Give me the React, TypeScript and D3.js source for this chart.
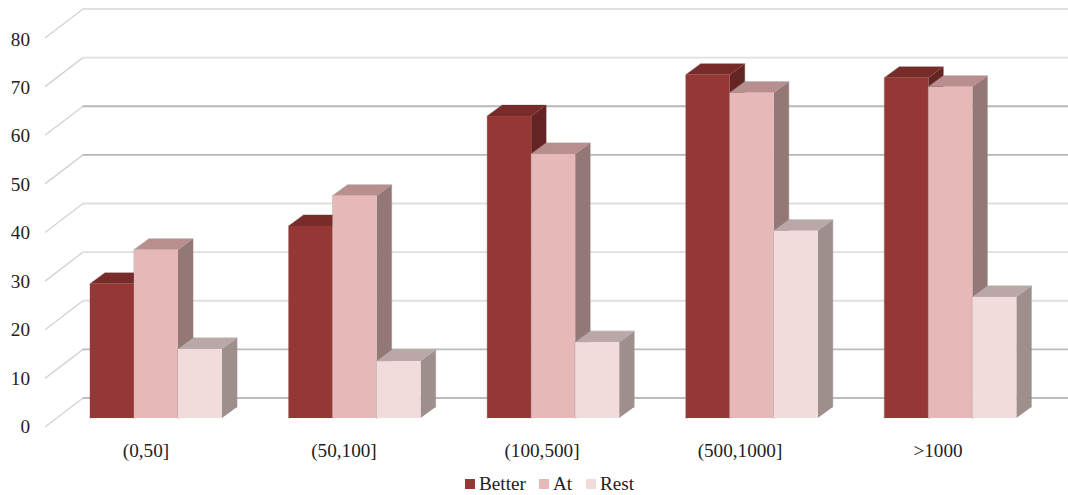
import React from "react";
import * as d3 from "d3";

const categories = ["(0,50]", "(50,100]", "(100,500]", "(500,1000]", ">1000"];
const seriesNames = ["Better", "At", "Rest"];
const better = [27.6, 39.5, 62.1, 70.6, 70];
const at = [34.6, 45.7, 54.3, 66.9, 68.1];
const rest = [14.2, 11.7, 15.6, 38.5, 24.9];
const yTicks = [0, 10, 20, 30, 40, 50, 60, 70, 80];
const tickShades = ["#bcbcbc", "#bcbcbc", "#e0e0e0", "#dedede", "#e0e0e0", "#b8b8b8", "#b8b8b8", "#e0e0e0", "#e0e0e0"];

const fronts = ["#953735", "#e6b9b8", "#f2dcdb"];
const tops = ["#772c2a", "#b88f8e", "#b9a8a7"];
const sides = ["#632423", "#947876", "#9e8e8c"];

const width = 1068;
const height = 495;
const depthX = 15;
const depthY = -11;

// Front plane of the bars; the wall sits further back along the depth axis.
const y = d3.scaleLinear().domain([0, 80]).range([418, 29]);
const labelY = d3.scaleLinear().domain([0, 80]).range([433, 45.5]);
const x0 = d3.scaleBand<string>().domain(categories).range([40.35, 1066]).paddingInner(0.3353).paddingOuter(0.25);
// Category captions sit on the floor's front edge, left of the bars' own centres.
const xLabel = d3.scalePoint<string>().domain(categories).range([146, 938]);
const serie = [better, at, rest];

export default function App() {
  const barW = x0.bandwidth() / 3;
  const font = "'Liberation Serif', 'Times New Roman', serif";
  const wallY = (t: number) => y(t) - 20;
  const leftY = (t: number) => y(t) + 9;
  return (
    <svg width={width} height={height} style={{ position: "absolute", left: 0, top: 0, background: "#fff" }} fontFamily={font}>
      {yTicks.map((t, i) => (
        <g key={t} fill="none">
          <line x1={45} y1={leftY(t)} x2={83} y2={wallY(t)} stroke="#d2d2d2" strokeWidth={1.3} />
          <line x1={82.5} y1={wallY(t)} x2={1068} y2={wallY(t)} stroke={tickShades[i]} strokeWidth={1.8} />
        </g>
      ))}
      {yTicks.map((t) => (
        <text key={t} x={30} y={labelY(t)} textAnchor="end" fontSize={19.2} fill="#222">{t}</text>
      ))}
      {categories.map((c, ci) => {
        const start = x0(c)!;
        return (
          <g key={c}>
            {serie.map((vals, si) => {
              const bx = start + si * barW;
              const top = y(vals[ci]);
              const base = y(0);
              const right = bx + barW;
              return (
                <g key={si}>
                  <polygon
                    fill="none"
                    stroke="#8c8c8c"
                    strokeOpacity={0.45}
                    strokeWidth={1.2}
                    points={`${bx},${base} ${bx},${top} ${bx + depthX},${top + depthY} ${right + depthX},${top + depthY} ${right + depthX},${base + depthY}`}
                  />
                  <polygon fill={tops[si]} points={`${bx},${top} ${bx + depthX},${top + depthY} ${right + depthX},${top + depthY} ${right},${top}`} />
                  <polygon fill={sides[si]} points={`${right},${top} ${right + depthX},${top + depthY} ${right + depthX},${base + depthY} ${right},${base}`} />
                  <rect x={bx} y={top} width={barW} height={base - top} fill={fronts[si]} />
                </g>
              );
            })}
            <text x={xLabel(c)} y={457} textAnchor="middle" fontSize={19.2} fill="#222">{c}</text>
          </g>
        );
      })}
      {[465, 539, 586].map((lx, i) => (
        <g key={lx}>
          <rect x={lx} y={479} width={10} height={10} fill={fronts[i]} />
          <text x={lx + 14} y={489.5} fontSize={19.2} fill="#222">{seriesNames[i]}</text>
        </g>
      ))}
    </svg>
  );
}
